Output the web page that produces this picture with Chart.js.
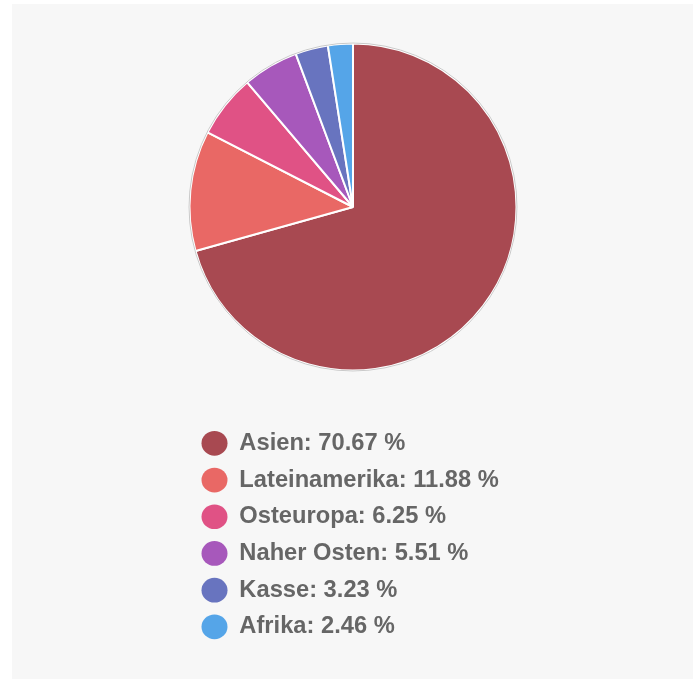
<!DOCTYPE html>
<html>
<head>
<meta charset="utf-8">
<script src="https://cdn.jsdelivr.net/npm/chart.js@4/dist/chart.umd.min.js"></script>
<style>
  html, body { margin: 0; padding: 0; background: #fff; }
  #panel { position: absolute; left: 12px; top: 4px; width: 681px; height: 675px; background: #f7f7f7; }
  #wrap { position: absolute; left: 0; top: 0; width: 698px; height: 679px; }
</style>
</head>
<body>
<div id="panel"></div>
<div id="wrap"><canvas id="pieChart"></canvas></div>
<script>
const regions = ['Asien', 'Lateinamerika', 'Osteuropa', 'Naher Osten', 'Kasse', 'Afrika'];
const shares = [70.67, 11.88, 6.25, 5.51, 3.23, 2.46];
const colors = ['#a84951', '#e96865', '#e05285', '#a758bb', '#6874bf', '#55a5e8'];

// thin grey ring round the pie
const ring = {
  id: 'ring',
  afterDatasetsDraw(chart) {
    const arc = chart.getDatasetMeta(0).data[0];
    if (!arc) return;
    const ctx = chart.ctx;
    ctx.save();
    ctx.beginPath();
    ctx.arc(arc.x, arc.y, arc.outerRadius + 0.5, 0, Math.PI * 2);
    ctx.strokeStyle = '#c9c9c9';
    ctx.lineWidth = 1;
    ctx.stroke();
    ctx.restore();
  }
};

new Chart(document.getElementById('pieChart').getContext('2d'), {
  type: 'pie',
  data: {
    labels: regions,
    datasets: [{
      data: shares,
      backgroundColor: colors,
      borderColor: '#fff',
      borderWidth: 2,
      hoverOffset: 0,
      offset: 0
    }]
  },
  options: {
    responsive: true,
    maintainAspectRatio: false,
    animation: false,
    layout: { padding: { left: 188.5, right: 180.5, top: 42.5, bottom: 30.3 } },
    plugins: {
      tooltip: { enabled: false },
      legend: {
        position: 'bottom',
        align: 'start',
        fullSize: false,
        title: { display: true, text: '', font: { size: 10, lineHeight: 1 }, padding: { top: 37, bottom: 0 } },
        labels: {
          usePointStyle: true,
          pointStyle: 'circle',
          pointStyleWidth: 26,
          boxHeight: 17.5,
          padding: 13,
          color: '#666',
          font: { family: '"Liberation Sans", Arial, sans-serif', size: 23.7, weight: 'bold' },
          generateLabels(chart) {
            const ds = chart.data.datasets[0];
            return chart.data.labels.map((l, i) => ({
              text: l + ': ' + ds.data[i].toFixed(2) + ' %',
              fillStyle: ds.backgroundColor[i],
              strokeStyle: ds.backgroundColor[i],
              lineWidth: 0,
              pointStyle: 'circle',
              fontColor: '#666',
              hidden: false,
              index: i
            }));
          }
        }
      }
    }
  },
  plugins: [ring]
});
</script>
</body>
</html>
